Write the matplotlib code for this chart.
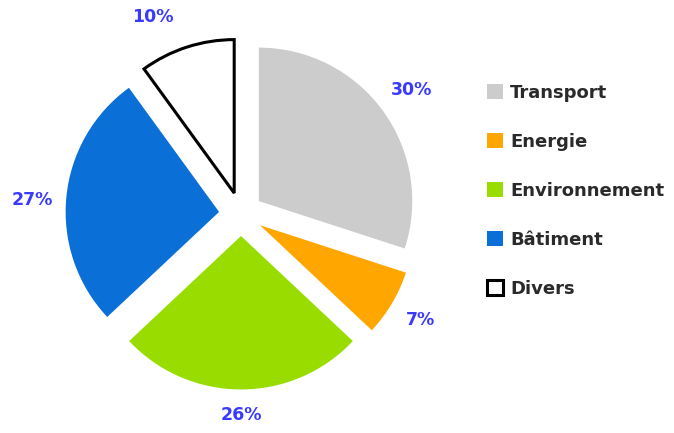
import numpy as np
import matplotlib.pyplot as plt

labels = ['Transport', 'Energie', 'Environnement', 'Bâtiment', 'Divers']
values = [30, 7, 26, 27, 10]
colors = ['#cccccc', '#ffa600', '#99dd00', '#0a6fd6', '#ffffff']

plt.rcParams['font.family'] = ['DejaVu Sans']

fig = plt.figure(figsize=(6.74, 4.33), dpi=100)
# pie centre at ~(241, 214) px, radius ~155 px
R = 155.0
cx, cy = 241, 214
ax = fig.add_axes([0, 0, 476/674, 1])
wedges, texts, autotexts = ax.pie(
    values, colors=colors, startangle=90, counterclock=False,
    explode=[0.142]*5, radius=0.99,
    autopct='%d%%', pctdistance=1.21,
    textprops=dict(color='#3a3aff', fontsize=12.5, fontweight='bold'))
wedges[-1].set_edgecolor('black')
wedges[-1].set_linewidth(2.2)

# small per-label nudges of the percentage labels
lab_r = [1.22, 1.20, 1.155, 1.21, 1.25]
lab_da = [0, 0, 0, 1.7, 7]
for w, t, r, da in zip(wedges, autotexts, lab_r, lab_da):
    a = np.deg2rad((w.theta1 + w.theta2) / 2 + da)
    x0, y0 = w.center
    t.set_position((x0 + r * np.cos(a), y0 + r * np.sin(a)))

ax.set_xlim(-cx/R, (476-cx)/R)
ax.set_ylim(-(433-cy)/R, cy/R)
ax.set_aspect('auto')
ax.axis('off')

leg = fig.legend(wedges, labels, loc='upper left', bbox_to_anchor=(487/674, 1-84/433),
                 frameon=False, fontsize=13, labelspacing=1.715,
                 borderpad=0, borderaxespad=0,
                 handlelength=0.88, handleheight=0.88, handletextpad=0.4)
for t in leg.get_texts():
    t.set_color('#2a2a2a')
    t.set_fontweight('bold')

fig.savefig('out.png', dpi=100)
